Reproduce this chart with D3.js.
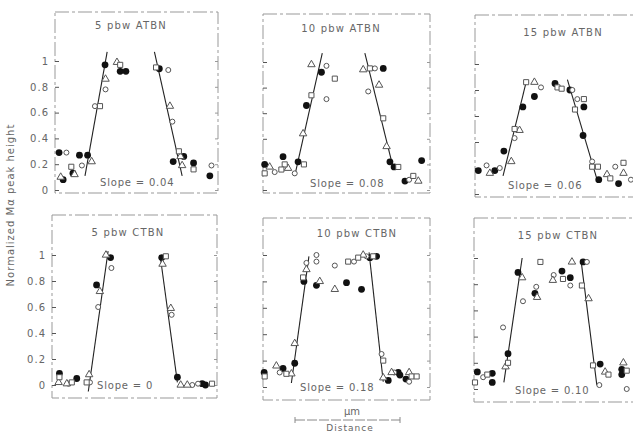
<!DOCTYPE html>
<html>
<head>
<meta charset="utf-8">
<script src="https://cdn.jsdelivr.net/npm/d3@7"></script>
<style>
  html, body { margin: 0; padding: 0; background: #fff; }
  svg { display: block; }
  text { font-family: "DejaVu Sans", sans-serif; fill: #666; }
</style>
</head>
<body>
<script>
// panel titles and slope captions
const titles = ['5 pbw ATBN', '10 pbw ATBN', '15 pbw ATBN', '5 pbw CTBN', '10 pbw CTBN', '15 pbw CTBN']
const slopes = ['Slope = 0.04', 'Slope = 0.08', 'Slope = 0.06', 'Slope = 0', 'Slope = 0.18', 'Slope = 0.10']
const yTicks = [0, 0.2, 0.4, 0.6, 0.8, 1]

// points: [distance (0-100 across panel), normalized height, marker]
// f = filled circle, o = open circle, t = triangle, s = square
const p1Points = [[2.5,0.29,'f'],[7,0.29,'o'],[5,0.08,'f'],[3.5,0.1,'t'],[11,0.13,'f'],[10,0.18,'s'],[12,0.12,'t'],
  [15,0.27,'f'],[16.5,0.19,'o'],[20,0.27,'f'],[22.5,0.22,'t'],[24.5,0.65,'o'],[27.6,0.65,'s'],[31,0.78,'o'],
  [31,0.86,'t'],[30.7,0.97,'f'],[38,0.99,'t'],[40,0.97,'s'],[40,0.92,'f'],[43.5,0.92,'f'],[62,0.95,'s'],
  [64,0.94,'f'],[69.5,0.93,'o'],[70.5,0.65,'t'],[72,0.53,'o'],[72.5,0.22,'f'],[76,0.3,'s'],[77,0.26,'t'],
  [79,0.26,'f'],[78,0.19,'t'],[85,0.21,'f'],[85,0.16,'s'],[95,0.11,'f'],[96,0.19,'o']]
const p2Points = [[1,0.2,'f'],[4,0.18,'t'],[7,0.14,'o'],[1,0.13,'s'],[12,0.26,'f'],[13,0.2,'s'],[11,0.16,'s'],
  [15,0.17,'t'],[19,0.13,'o'],[21,0.22,'f'],[24.5,0.2,'s'],[24,0.44,'t'],[26,0.66,'f'],[29,0.74,'s'],
  [29,0.98,'t'],[35,0.92,'f'],[38,0.97,'o'],[43,0.87,'s'],[38,0.71,'o'],[60,0.94,'t'],[64,0.95,'s'],
  [67,0.95,'o'],[72,0.95,'f'],[69.5,0.82,'t'],[63,0.77,'o'],[72,0.56,'s'],[74,0.34,'t'],[76,0.22,'f'],
  [78.5,0.18,'f'],[81,0.18,'s'],[85,0.07,'f'],[87.5,0.08,'o'],[90,0.11,'s'],[93,0.07,'t'],[95,0.23,'f']]
const p3Points = [[2,0.18,'f'],[7,0.22,'o'],[9,0.16,'t'],[12,0.18,'f'],[15,0.2,'o'],[17.5,0.33,'f'],[22,0.25,'t'],
  [24,0.43,'o'],[24,0.5,'s'],[27,0.49,'t'],[29,0.67,'f'],[31,0.86,'s'],[36,0.86,'t'],[40,0.82,'o'],
  [36,0.75,'f'],[48.5,0.85,'f'],[50,0.82,'s'],[52.5,0.81,'s'],[57.5,0.8,'f'],[59,0.8,'o'],[62,0.73,'o'],
  [66,0.73,'s'],[66,0.67,'f'],[60.6,0.65,'s'],[65.5,0.45,'f'],[71,0.25,'o'],[71,0.21,'s'],[74.5,0.21,'s'],
  [75,0.11,'f'],[80,0.15,'t'],[82,0.12,'s'],[85,0.21,'o'],[90,0.24,'s'],[90,0.16,'t'],[87,0.08,'f'],[94.5,0.11,'o']]
const p4Points = [[4.5,0.09,'f'],[4.5,0.06,'s'],[4,0.02,'t'],[10,0.01,'o'],[9,0.01,'t'],[12,0.02,'s'],[15,0.05,'f'],
  [21,0.02,'s'],[23,0.02,'o'],[22.5,0.08,'t'],[28,0.6,'o'],[27,0.77,'f'],[29,0.72,'t'],[32.7,1.0,'t'],
  [35.5,0.98,'f'],[36,0.9,'o'],[66.5,0.98,'f'],[69,0.99,'s'],[67,0.93,'t'],[72,0.59,'t'],[72.5,0.54,'o'],
  [76,0.06,'f'],[78,0.0,'t'],[82,0.0,'t'],[85,0.0,'o'],[88.5,0.01,'o'],[93,0.0,'f'],[91,0.01,'f'],[97,0.01,'s']]
const p5Points = [[0.7,0.11,'f'],[1,0.08,'s'],[8,0.16,'t'],[12,0.14,'f'],[10,0.11,'o'],[14,0.1,'s'],[17,0.1,'t'],
  [19,0.18,'f'],[19,0.33,'t'],[24.5,0.8,'f'],[24,0.83,'s'],[26,0.89,'t'],[26,0.94,'o'],[32,1.0,'o'],
  [32,0.95,'o'],[32,0.77,'f'],[34,0.8,'t'],[43,0.74,'t'],[50,0.79,'f'],[59,0.74,'f'],[43,0.92,'o'],
  [51,0.95,'s'],[54.5,0.95,'o'],[57,0.98,'s'],[60,1.0,'t'],[62,0.99,'o'],[66,0.99,'s'],[68,0.99,'f'],
  [64,0.98,'f'],[71,0.25,'o'],[72,0.2,'s'],[72,0.07,'t'],[75,0.05,'f'],[77,0.11,'t'],[81,0.11,'f'],
  [82,0.09,'f'],[78.5,0.11,'o'],[85.6,0.06,'f'],[87.5,0.11,'t'],[89,0.08,'s'],[87.5,0.04,'o'],[92,0.08,'s']]
const p6Points = [[2,0.13,'f'],[0.6,0.05,'s'],[5.5,0.09,'o'],[8,0.11,'s'],[11,0.12,'f'],[11,0.05,'f'],[19,0.17,'t'],
  [20.5,0.2,'s'],[20.5,0.27,'f'],[17.5,0.47,'o'],[29.5,0.67,'o'],[26.5,0.89,'f'],[29,0.85,'t'],[36.7,0.73,'f'],
  [37.5,0.78,'o'],[38,0.7,'t'],[40,0.97,'s'],[47.5,0.83,'t'],[48,0.87,'o'],[53,0.9,'f'],[53.6,0.84,'s'],
  [58,0.85,'f'],[58,0.79,'o'],[59,0.97,'t'],[65.7,0.97,'f'],[68,0.97,'o'],[65,0.79,'s'],[69,0.69,'t'],
  [71.7,0.18,'s'],[76,0.19,'f'],[75.5,0.03,'o'],[79,0.13,'t'],[81,0.11,'s'],[90,0.2,'t'],[89,0.15,'f'],
  [92,0.14,'s'],[89,0.11,'f'],[92,0.0,'o']]

// fitted lines: [x1, y1, x2, y2]
const p1Lines = [[18.4,0.11,32,1.07],[61,1.07,78,0.11]]
const p2Lines = [[19,0.11,35.5,1.07],[61,1.07,78,0.17]]
const p3Lines = [[17,0.14,31,0.86],[56,0.88,74,0.11]]
const p4Lines = [[22,-0.05,34,1.03],[65.5,1.0,76,0.02]]
const p5Lines = [[17,0.03,27.5,0.99],[63.5,1.02,72,0.04]]
const p6Lines = [[18,0.05,29,1.0],[64.5,0.98,74,0.03]]

const allPoints = [p1Points, p2Points, p3Points, p4Points, p5Points, p6Points]
const allLines = [p1Lines, p2Lines, p3Lines, p4Lines, p5Lines, p6Lines]

// panel frames in page pixels (scanned figure is slightly skewed)
const FRAMES = [
  {l: 55,  r: 218, t: 12,  b: 193, y0: 190, y1: 61,  tx: 131, ty: 29,  sx: 100, sy: 186},
  {l: 263, r: 430, t: 14,  b: 193, y0: 190, y1: 62,  tx: 341, ty: 32,  sx: 310, sy: 187},
  {l: 475, r: 640, t: 15,  b: 197, y0: 194, y1: 64,  tx: 563, ty: 36,  sx: 508, sy: 189},
  {l: 52,  r: 217, t: 215, b: 398, y0: 385, y1: 255, tx: 128, ty: 236, sx: 97,  sy: 389},
  {l: 263, r: 430, t: 218, b: 400, y0: 387, y1: 255, tx: 357, ty: 237, sx: 300, sy: 391},
  {l: 474, r: 640, t: 218, b: 402, y0: 389, y1: 258, tx: 558, ty: 239, sx: 515, sy: 394}
]

const W = 633, H = 433
const svg = d3.select('body').append('svg').attr('width', W).attr('height', H)

const tri = d3.symbol().type(d3.symbolTriangle).size(24)
const sq = d3.symbol().type(d3.symbolSquare).size(26)

FRAMES.forEach((f, i) => {
  let x = d3.scaleLinear().domain([0, 100]).range([f.l, f.r])
  let y = d3.scaleLinear().domain([0, 1]).range([f.y0, f.y1])
  let g = svg.append('g')

  //frame, faint and broken like the scan
  g.append('rect')
    .attr('x', f.l).attr('y', f.t)
    .attr('width', f.r - f.l).attr('height', f.b - f.t)
    .attr('fill', 'none').attr('stroke', '#999').attr('stroke-width', 1)
    .attr('stroke-dasharray', '14,3,3,3')

  //left axis, labels only on the first column
  let left = d3.axisLeft(y).tickValues(yTicks).tickSize(-4).tickPadding(6)
    .tickFormat(i % 3 == 0 ? (d => d == 0 ? '0' : d == 1 ? '1' : d3.format('.1f')(d)) : () => '')
  let ax = g.append('g').attr('transform', 'translate(' + f.l + ',0)').call(left)
  ax.select('.domain').remove()
  ax.selectAll('line').attr('stroke', '#555')
  ax.selectAll('text').style('font-size', '10px').attr('fill', '#aaa').style('letter-spacing', '1px')

  let right = d3.axisRight(y).tickValues(yTicks).tickSize(-3).tickFormat(() => '')
  let ar = g.append('g').attr('transform', 'translate(' + f.r + ',0)').call(right)
  ar.select('.domain').remove()
  ar.selectAll('line').attr('stroke', '#999')

  //title and slope
  g.append('text').attr('x', f.tx).attr('y', f.ty).attr('text-anchor', 'middle')
    .style('font-size', '10px').style('letter-spacing', '1.2px').attr('fill', '#777').text(titles[i])
  g.append('text').attr('x', f.sx).attr('y', f.sy)
    .style('font-size', '10px').style('letter-spacing', '0.8px').attr('fill', '#888').text(slopes[i])

  //fitted lines
  g.selectAll('.fit').data(allLines[i]).enter().append('line')
    .attr('class', 'fit')
    .attr('x1', d => x(d[0])).attr('y1', d => y(d[1]))
    .attr('x2', d => x(d[2])).attr('y2', d => y(d[3]))
    .attr('stroke', '#222').attr('stroke-width', 1.1)

  //points
  let pts = allPoints[i]
  g.selectAll('.fc').data(pts.filter(d => d[2] == 'f')).enter().append('circle')
    .attr('class', 'fc').attr('cx', d => x(d[0])).attr('cy', d => y(d[1])).attr('r', 3.4)
    .attr('fill', '#111')
  g.selectAll('.oc').data(pts.filter(d => d[2] == 'o')).enter().append('circle')
    .attr('class', 'oc').attr('cx', d => x(d[0])).attr('cy', d => y(d[1])).attr('r', 2.5)
    .attr('fill', '#fff').attr('stroke', '#555').attr('stroke-width', 1)
  g.selectAll('.tr').data(pts.filter(d => d[2] == 't')).enter().append('path')
    .attr('class', 'tr').attr('d', tri)
    .attr('transform', d => 'translate(' + x(d[0]) + ',' + y(d[1]) + ')')
    .attr('fill', '#fff').attr('stroke', '#555').attr('stroke-width', 1)
  g.selectAll('.sq').data(pts.filter(d => d[2] == 's')).enter().append('path')
    .attr('class', 'sq').attr('d', sq)
    .attr('transform', d => 'translate(' + x(d[0]) + ',' + y(d[1]) + ')')
    .attr('fill', '#fff').attr('stroke', '#555').attr('stroke-width', 1)
})

//shared y label
svg.append('text')
  .attr('transform', 'translate(14,205) rotate(-90)')
  .attr('text-anchor', 'middle')
  .style('font-size', '10px').style('letter-spacing', '1px').attr('fill', '#666')
  .text('Normalized Mα peak height')

//distance scale bar
svg.append('text').attr('x', 352).attr('y', 415).attr('text-anchor', 'middle')
  .style('font-size', '10px').attr('fill', '#555').text('μm')
svg.append('line').attr('x1', 295).attr('x2', 400).attr('y1', 420).attr('y2', 420)
  .attr('stroke', '#888').attr('stroke-dasharray', '10,2')
svg.append('line').attr('x1', 295).attr('x2', 295).attr('y1', 417).attr('y2', 423).attr('stroke', '#888')
svg.append('line').attr('x1', 400).attr('x2', 400).attr('y1', 417).attr('y2', 423).attr('stroke', '#888')
svg.append('text').attr('x', 350).attr('y', 431).attr('text-anchor', 'middle')
  .style('font-size', '9px').style('letter-spacing', '1px').attr('fill', '#888').text('Distance')
</script>
</body>
</html>
